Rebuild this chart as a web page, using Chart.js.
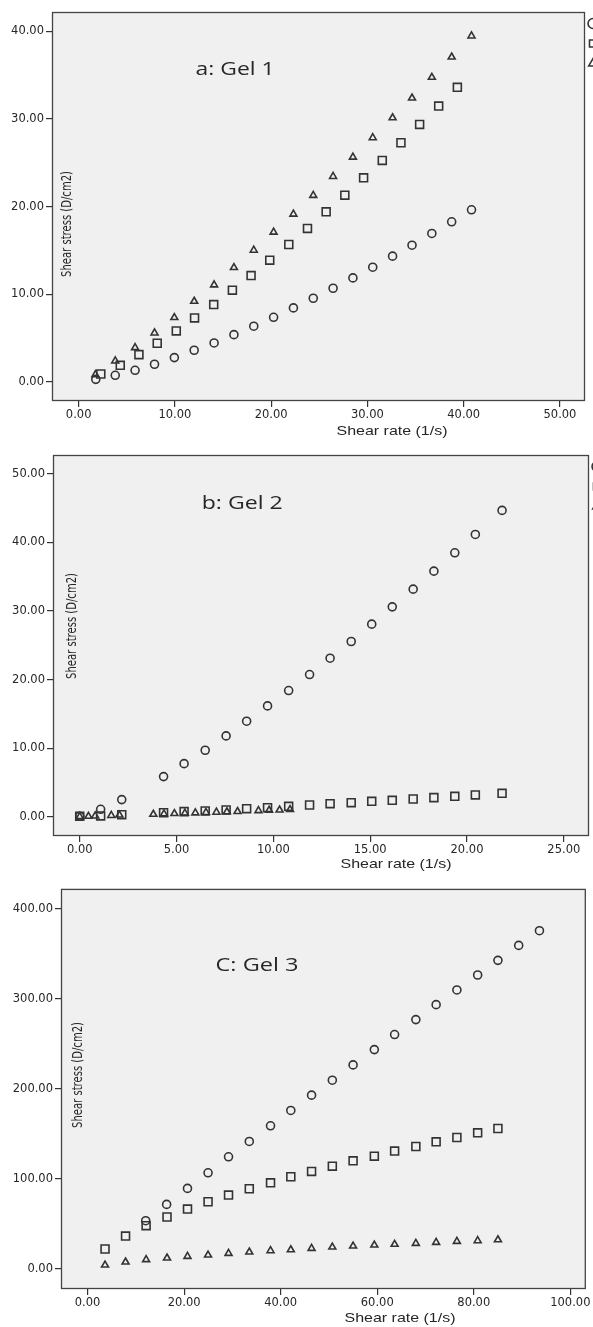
<!DOCTYPE html>
<html>
<head>
<meta charset="utf-8">
<script src="https://cdn.jsdelivr.net/npm/chart.js@4.4.0/dist/chart.umd.min.js"></script>
<style>
  html, body { margin: 0; padding: 0; background: #fff; }
  body { position: relative; width: 593px; height: 1327px; overflow: hidden; }
  .panel { position: absolute; left: 0; width: 593px; overflow: hidden; }
</style>
</head>
<body>
<div class="panel" style="top:0;height:440px"><canvas id="gel1" width="620" height="440"></canvas></div>
<div class="panel" style="top:440px;height:440px"><canvas id="gel2" width="620" height="440"></canvas></div>
<div class="panel" style="top:880px;height:447px"><canvas id="gel3" width="593" height="447"></canvas></div>
<script>
"use strict";

// ---- data (shear rate 1/s, shear stress D/cm2) ----
// a: Gel 1
const gel1CircleRate = [1.78, 3.80, 5.86, 7.88, 9.94, 12.00, 14.07, 16.13, 18.19, 20.25, 22.31, 24.37, 26.43, 28.49, 30.55, 32.61, 34.63, 36.69, 38.75, 40.81];
const gel1CircleStress = [0.30, 0.76, 1.33, 2.02, 2.78, 3.62, 4.45, 5.40, 6.36, 7.38, 8.45, 9.55, 10.69, 11.87, 13.09, 14.35, 15.60, 16.94, 18.27, 19.64];
const gel1SquareRate = [2.30, 4.32, 6.26, 8.16, 10.14, 12.04, 14.03, 15.97, 17.91, 19.85, 21.83, 23.77, 25.71, 27.65, 29.60, 31.54, 33.48, 35.42, 37.40, 39.34];
const gel1SquareStress = [0.91, 1.90, 3.12, 4.42, 5.82, 7.31, 8.83, 10.47, 12.14, 13.89, 15.68, 17.51, 19.41, 21.31, 23.29, 25.27, 27.29, 29.38, 31.47, 33.61];
const gel1TriangleRate = [1.74, 3.80, 5.86, 7.88, 9.94, 12.00, 14.07, 16.13, 18.19, 20.25, 22.31, 24.37, 26.43, 28.49, 30.55, 32.61, 34.63, 36.69, 38.75, 40.81];
const gel1TriangleStress = [0.84, 2.40, 3.92, 5.59, 7.35, 9.21, 11.08, 13.05, 15.03, 17.09, 19.14, 21.28, 23.44, 25.65, 27.86, 30.14, 32.39, 34.75, 37.07, 39.47];

// b: Gel 2
const gel2CircleRate = [0, 1.08, 2.17, 4.33, 5.39, 6.48, 7.56, 8.62, 9.70, 10.79, 11.87, 12.93, 14.02, 15.08, 16.14, 17.22, 18.29, 19.37, 20.43, 21.81];
const gel2CircleStress = [0.10, 1.12, 2.53, 5.88, 7.77, 9.72, 11.81, 13.95, 16.18, 18.42, 20.75, 23.13, 25.56, 28.09, 30.61, 33.19, 35.81, 38.48, 41.16, 44.66];
const gel2SquareRate = [0, 1.08, 2.17, 4.33, 5.39, 6.48, 7.56, 8.62, 9.70, 10.79, 11.87, 12.93, 14.02, 15.08, 16.14, 17.22, 18.29, 19.37, 20.43, 21.81];
const gel2SquareStress = [0.10, 0.15, 0.34, 0.63, 0.78, 0.87, 1.02, 1.21, 1.36, 1.55, 1.75, 1.94, 2.09, 2.28, 2.43, 2.62, 2.82, 3.01, 3.21, 3.45];
const gel2TriangleRate = [0, 0.45, 0.80, 1.63, 2.05, 3.80, 4.35, 4.89, 5.43, 5.97, 6.52, 7.06, 7.60, 8.15, 9.23, 9.78, 10.32, 10.86];
const gel2TriangleStress = [0.05, 0.10, 0.15, 0.22, 0.28, 0.40, 0.46, 0.50, 0.56, 0.60, 0.66, 0.70, 0.76, 0.80, 0.92, 0.98, 1.02, 1.08];

// C: Gel 3
const gel3CircleRate = [12.05, 16.38, 20.70, 24.96, 29.20, 33.50, 37.90, 42.10, 46.40, 50.70, 55.00, 59.40, 63.60, 68.00, 72.20, 76.50, 80.80, 85.00, 89.30, 93.60];
const gel3CircleStress = [53.6, 71.7, 89.5, 106.8, 124.6, 141.6, 159.0, 176.0, 193.0, 209.6, 226.6, 243.6, 260.3, 276.9, 293.5, 309.8, 326.4, 342.7, 359.3, 375.6];
const gel3SquareRate = [3.62, 7.87, 12.13, 16.46, 20.70, 24.96, 29.20, 33.50, 37.90, 42.10, 46.40, 50.70, 55.00, 59.40, 63.60, 68.00, 72.20, 76.50, 80.80, 85.00];
const gel3SquareStress = [22.2, 36.6, 48.1, 57.7, 66.5, 74.7, 82.1, 89.1, 95.7, 102.4, 108.3, 114.2, 120.1, 125.3, 130.9, 136.0, 141.2, 146.0, 151.2, 156.0];
const gel3TriangleRate = [3.62, 7.87, 12.13, 16.46, 20.70, 24.96, 29.20, 33.50, 37.90, 42.10, 46.40, 50.70, 55.00, 59.40, 63.60, 68.00, 72.20, 76.50, 80.80, 85.00];
const gel3TriangleStress = [4.4, 7.8, 10.4, 12.2, 14.0, 15.5, 17.4, 18.9, 20.3, 21.4, 22.9, 24.4, 25.5, 26.6, 27.4, 28.5, 29.6, 30.7, 31.4, 32.5];

const panelTitles = ["a: Gel 1", "b: Gel 2", "C: Gel 3"];
const xAxisTitle = "Shear rate (1/s)";
const yAxisTitle = "Shear stress (D/cm2)";

const INK = '#262626';

function toPoints(xs, ys) {
    return xs.map((x, i) => ({ x: x, y: ys[i] }));
}

function series(label, style, radius, xs, ys) {
    return {
        label: label,
        data: toPoints(xs, ys),
        pointStyle: style,
        pointRadius: radius,
        borderColor: '#333',
        backgroundColor: 'rgba(0,0,0,0)',
        borderWidth: 1.6,
        showLine: false
    };
}

// draws text squeezed/stretched to a given width (the source picture is stretched sideways)
function drawFitted(ctx, text, x, y, font, width, angle, align) {
    ctx.save();
    ctx.font = font;
    const natural = ctx.measureText(text).width;
    ctx.translate(x, y);
    ctx.rotate(angle);
    ctx.scale(width ? width / natural : 1, 1);
    ctx.textAlign = align;
    ctx.textBaseline = 'middle';
    ctx.fillStyle = INK;
    ctx.fillText(text, 0, 0);
    ctx.restore();
}

// grey plot panel with a box round it
const framePlugin = {
    id: 'frame',
    beforeDraw(chart) {
        const a = chart.chartArea, ctx = chart.ctx;
        ctx.save();
        ctx.fillStyle = '#f0f0f0';
        ctx.fillRect(a.left, a.top, a.right - a.left, a.bottom - a.top);
        ctx.restore();
    },
    afterDraw(chart) {
        const a = chart.chartArea, ctx = chart.ctx;
        ctx.save();
        ctx.strokeStyle = '#444';
        ctx.lineWidth = 1.3;
        ctx.strokeRect(a.left + 0.5, a.top + 0.5, a.right - a.left - 1, a.bottom - a.top - 1);
        ctx.restore();
    }
};

// panel caption, axis titles
const textPlugin = {
    id: 'texts',
    afterDraw(chart, args, o) {
        const ctx = chart.ctx;
        const sx = chart.scales.x, sy = chart.scales.y;
        drawFitted(ctx, o.caption, sx.getPixelForValue(o.captionAt[0]), sy.getPixelForValue(o.captionAt[1]),
            '18.5px "Open Sans", "Noto Sans", sans-serif', o.captionWidth, 0, 'left');
        drawFitted(ctx, xAxisTitle, o.xTitle[0], o.xTitle[1],
            '13.5px "Liberation Sans", Arial, sans-serif', 111, 0, 'center');
        drawFitted(ctx, yAxisTitle, o.yTitle[0], o.yTitle[1],
            '14px "Liberation Sans Narrow", "DejaVu Sans Condensed", "Liberation Sans", sans-serif', 106, -Math.PI / 2, 'center');
    }
};

function makeChart(id, datasets, cfg) {
    const tickFont = { family: '"DejaVu Sans", sans-serif', size: 11.5 };
    const legendOpts = cfg.legend ? {
        display: true,
        position: 'right',
        align: 'start',
        maxWidth: 30,
        labels: {
            usePointStyle: true,
            boxWidth: 10,
            boxHeight: 7,
            padding: 3,
            font: { size: 17 },
            color: INK,
            generateLabels: chart => Chart.defaults.plugins.legend.labels.generateLabels(chart).map(l => Object.assign(l, { text: '' }))
        }
    } : { display: false };

    return new Chart(document.getElementById(id), {
        type: 'scatter',
        data: { datasets: datasets },
        options: {
            responsive: false,
            animation: false,
            devicePixelRatio: 1,
            events: [],
            layout: { padding: cfg.padding },
            plugins: {
                legend: legendOpts,
                tooltip: { enabled: false },
                texts: cfg.texts
            },
            scales: {
                x: {
                    type: 'linear',
                    min: cfg.xRange[0],
                    max: cfg.xRange[1],
                    border: { display: false },
                    grid: { drawOnChartArea: false, drawTicks: true, tickLength: 6, color: '#333', lineWidth: 1.2 },
                    ticks: {
                        stepSize: cfg.xStep,
                        includeBounds: false,
                        maxRotation: 0,
                        minRotation: 0,
                        padding: 1,
                        color: INK,
                        font: tickFont,
                        callback: v => v.toFixed(2)
                    },
                    afterFit: s => { s.height = cfg.xAxisHeight; }
                },
                y: {
                    type: 'linear',
                    min: cfg.yRange[0],
                    max: cfg.yRange[1],
                    border: { display: false },
                    grid: { drawOnChartArea: false, drawTicks: true, tickLength: 6, color: '#333', lineWidth: 1.2 },
                    ticks: {
                        stepSize: cfg.yStep,
                        includeBounds: false,
                        padding: 2,
                        color: INK,
                        font: tickFont,
                        callback: v => v.toFixed(2)
                    },
                    afterFit: s => { s.width = cfg.yAxisWidth; }
                }
            }
        },
        plugins: [framePlugin, textPlugin]
    });
}

makeChart('gel1', [
    series('Circle', 'circle', 4, gel1CircleRate, gel1CircleStress),
    series('Square', 'rect', 5.6, gel1SquareRate, gel1SquareStress),
    series('Triangle', 'triangle', 4, gel1TriangleRate, gel1TriangleStress)
], {
    padding: { top: 12, right: 5, left: 0, bottom: 0 },
    legend: true,
    xRange: [-2.77, 52.6], xStep: 10,
    yRange: [-2.17, 42.2], yStep: 10,
    xAxisHeight: 39, yAxisWidth: 52,
    texts: { caption: panelTitles[0], captionAt: [12.15, 35.6], captionWidth: 79, xTitle: [392, 431], yTitle: [67, 224] }
});

makeChart('gel2', [
    series('Circle', 'circle', 4, gel2CircleRate, gel2CircleStress),
    series('Square', 'rect', 5.6, gel2SquareRate, gel2SquareStress),
    series('Triangle', 'triangle', 4, gel2TriangleRate, gel2TriangleStress)
], {
    padding: { top: 15, right: 1, left: 0, bottom: 0 },
    legend: true,
    xRange: [-1.38, 26.3], xStep: 5,
    yRange: [-2.77, 52.73], yStep: 10,
    xAxisHeight: 44, yAxisWidth: 53,
    texts: { caption: panelTitles[1], captionAt: [6.3, 45.7], captionWidth: 81, xTitle: [396, 424], yTitle: [72, 186] }
});

makeChart('gel3', [
    series('Circle', 'circle', 4, gel3CircleRate, gel3CircleStress),
    series('Square', 'rect', 5.6, gel3SquareRate, gel3SquareStress),
    series('Triangle', 'triangle', 4, gel3TriangleRate, gel3TriangleStress)
], {
    padding: { top: 8, right: 6, left: 0, bottom: 0 },
    legend: false,
    xRange: [-5.5, 103.2], xStep: 20,
    yRange: [-22.2, 422], yStep: 100,
    xAxisHeight: 38, yAxisWidth: 61,
    texts: { caption: panelTitles[2], captionAt: [26.5, 336.8], captionWidth: 83, xTitle: [400, 438], yTitle: [78, 195] }
});
</script>
</body>
</html>
